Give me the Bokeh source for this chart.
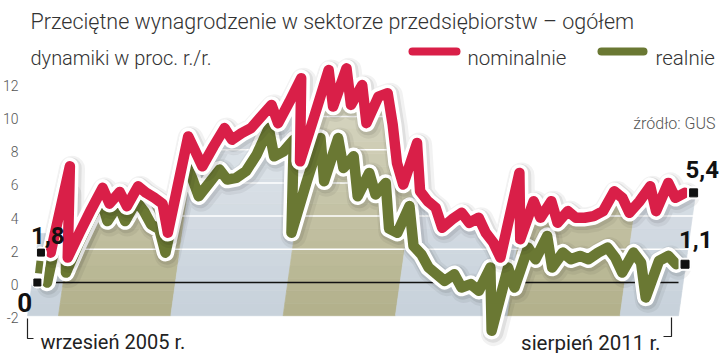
import numpy as np
from bokeh.plotting import figure
from bokeh.models import Range1d, Label
from bokeh.core.properties import value
from bokeh.embed import file_html
from bokeh.resources import INLINE

# ---------------- data ----------------
title = "Przeciętne wynagrodzenie w sektorze przedsiębiorstw – ogółem"
subtitle = "dynamiki w proc. r./r."
series_names = ["nominalnie", "realnie"]
source_note = "źródło: GUS"
first_month_label = "wrzesień 2005 r."
last_month_label = "sierpień 2011 r."

years = [2005, 2006, 2007, 2008, 2009, 2010, 2011]
first_month = 9  # wrzesień 2005, 72 months up to sierpień 2011

nominal = [1.8, 7.0, 1.5, 3.0, 4.4, 5.7, 4.75, 5.45, 4.6, 5.8, 5.4, 5.1,
           4.75, 3.0, 8.8, 7.9, 7.0, 8.2, 9.3, 8.6, 9.0, 9.3, 10.0, 10.7,
           9.6, 10.9, 12.3, 7.3, 10.0, 12.8, 10.6, 12.9, 10.7, 11.9, 9.6, 11.2,
           11.4, 9.5, 7.2, 5.9, 8.4, 5.5, 4.9, 4.5, 3.3, 3.8, 4.2, 3.6,
           3.9, 3.0, 2.4, 1.5, 6.6, 2.6, 4.9, 3.9, 4.9, 3.6, 4.3, 3.9,
           3.9, 4.0, 4.3, 5.5, 5.1, 4.2, 4.9, 5.8, 4.3, 6.0, 5.1, 5.4]

real = [0.0, 5.4, 0.6, 2.3, 3.8, 5.0, 3.7, 4.7, 3.7, 4.9, 4.3, 3.5,
        3.2, 1.8, 7.2, 6.3, 5.2, 6.0, 6.8, 6.2, 6.3, 6.7, 7.7, 9.3,
        7.6, 7.9, 8.6, 3.0, 6.0, 8.7, 6.1, 8.7, 6.9, 7.6, 5.2, 6.6,
        5.3, 6.0, 3.25, 3.0, 4.6, 2.2, 1.7, 0.9, 0.5, 0.1, 0.5, -0.3,
        -0.1, -0.5, 0.9, -2.9, 0.9, -0.3, 2.1, 1.4, 2.8, 0.9, 1.8, 1.4,
        1.6, 1.4, 1.8, 2.1, 1.5, 0.6, 1.8, 1.2, -0.9, 1.3, 1.6, 1.1]

y_ticks = [-2, 0, 2, 4, 6, 8, 10, 12]
y_tick_labels = ["-2", "0", "2", "4", "6", "8", "10", "12"]
grid_values = [2, 4, 6, 8, 10, 12]

# ---------------- layout / style ----------------
W, H = 720, 353
X0, DX = 43.0, 8.83     # pixel of first month, pixels per month
Y0, DY = 282.0, 16.6    # pixel (from top) of value 0, pixels per unit

def px2x(px):
    return (px - X0) / DX

def py2y(py):
    return (Y0 - py) / DY

RED = "#d91f48"
GREEN = "#6a7833"
BLUE_BAND = np.array([199, 209, 219])
OLIVE_BAND = np.array([178, 176, 138])
LIGHT = "Roboto Light"
BOLD = "Roboto"

LINE_SHEAR = 0.12 * DY / DX
LINE_BASE = -1.8

def shear(i, v):
    return np.asarray(i, dtype=float) + LINE_SHEAR * (np.asarray(v, dtype=float) - LINE_BASE)

months = np.arange(len(nominal))

x_lo, x_hi = px2x(0), px2x(W)
y_lo, y_hi = py2y(H), py2y(0)

p = figure(width=W, height=H, x_range=Range1d(x_lo, x_hi), y_range=Range1d(y_lo, y_hi),
           output_backend="svg", toolbar_location=None, min_border=0,
           x_axis_location=None, y_axis_location=None)
p.grid.visible = False
p.outline_line_color = None
p.background_fill_color = "white"
p.border_fill_color = "white"

# ---------------- year bands ----------------
BAND_SHEAR = 0.14 * DY / DX
BAND_BOTTOM, BAND_TOP = -2.0, 13.0
C, STRETCH = 33.5, 1.06
jan_idx = [(y - years[0]) * 12 - (first_month - 1) for y in years[1:]]
edges = [px2x(27)] + [C + STRETCH * (j - 0.5 - C) for j in jan_idx] + [px2x(678)]
levels = np.linspace(BAND_BOTTOM, BAND_TOP, 21)
bxs, bys, bcols = [], [], []
for k in range(len(years)):
    base = BLUE_BAND if k % 2 == 0 else OLIVE_BAND
    for j in range(len(levels) - 1):
        v0, v1 = levels[j], levels[j + 1]
        a = 1 - 0.55 * ((v0 + v1) / 2 - BAND_BOTTOM) / (BAND_TOP - BAND_BOTTOM)
        c = 255 - (255 - base) * a
        col = "#%02x%02x%02x" % tuple(int(round(t)) for t in c)
        s0 = BAND_SHEAR * (v0 - BAND_BOTTOM)
        s1 = BAND_SHEAR * (v1 - BAND_BOTTOM)
        bxs.append([edges[k] + s0, edges[k + 1] + s0, edges[k + 1] + s1, edges[k] + s1])
        bys.append([v0, v0, v1, v1])
        bcols.append(col)
p.patches(bxs, bys, fill_color=bcols, line_color=bcols, line_width=0.7)

# white grid lines
p.segment(x0=[x_lo] * len(grid_values), y0=grid_values, x1=[x_hi] * len(grid_values),
          y1=grid_values, line_color="white", line_width=1.5)

# white mask above the nominal line
nx = shear(months, nominal)
mask_x = [x_lo, x_lo, nx[0] - 0.5] + list(nx) + [x_hi, x_hi]
mask_y = [y_hi, 3.0, 3.0] + list(nominal) + [nominal[-1], y_hi]
p.patch(mask_x, mask_y, fill_color="white", line_color="white", line_width=1)

# zero line
p.segment(x0=[px2x(45)], y0=[0], x1=[px2x(678)], y1=[0], line_color="#111111", line_width=1.6)

# ---------------- lines ----------------
for vals, col in [(real, GREEN), (nominal, RED)]:
    v = np.asarray(vals, dtype=float)
    x = shear(months, v)
    p.line(x + 0.25, v - 0.15, line_width=26, line_color="black", line_alpha=0.05,
           line_join="round", line_cap="round")
    p.line(x + 0.15, v - 0.1, line_width=21, line_color="black", line_alpha=0.08,
           line_join="round", line_cap="round")
    p.line(x, v, line_width=17.5, line_color="white", line_join="round", line_cap="round")
    p.line(x, v, line_width=10.5, line_color=col, line_join="round", line_cap="round")

# start / end markers
start_v = [real[0], nominal[0]]
p.line(shear([-1.1, -1.1], [real[0], nominal[0]]), [real[0], nominal[0]],
       line_width=12, line_color="white", line_cap="round")
mid = [real[0] + 0.55, nominal[0] - 0.5]
p.line(shear([-1.1, -1.1], mid), mid, line_width=7, line_color=GREEN)
end_v = [nominal[-1], real[-1]]
p.scatter(shear([72, 72], end_v), end_v, marker="square", size=12, color="white")
p.scatter(shear([-1.1, -1.1], start_v), start_v, marker="square", size=7, color="#111111")
p.scatter(shear([72, 72], end_v), end_v, marker="square", size=8, color="#111111")

def fmt(v):
    return "0" if v == 0 else ("%.1f" % v).replace(".", ",")

for v, dx, dy in [(nominal[-1], -8, 15), (real[-1], -6, 16)]:
    p.add_layout(Label(x=float(shear(72, v)), y=v, x_offset=dx, y_offset=dy, text=fmt(v),
                       text_font=BOLD, text_font_style="bold", text_font_size="24px",
                       text_color="#111111"))
p.add_layout(Label(x=float(shear(-1.1, nominal[0])), y=nominal[0], x_offset=-10, y_offset=9,
                   text=fmt(nominal[0]), text_font=BOLD, text_font_style="bold",
                   text_font_size="24px", text_color="#111111"))
p.add_layout(Label(x=float(shear(-1.1, real[0])), y=real[0], x_offset=-20, y_offset=-29,
                   text=fmt(real[0]), text_font=BOLD, text_font_style="bold",
                   text_font_size="26px", text_color="#111111"))

# y tick labels
p.text(x=[px2x(18)] * len(y_ticks), y=y_ticks, text=y_tick_labels, text_align="right",
       text_baseline="middle", y_offset=2, text_font=value(LIGHT), text_font_size="14px",
       text_color="#555555")

# ---------------- texts ----------------
def scr_label(text, x, baseline_px, size, color="#333333", align="left", font=LIGHT, style="normal"):
    p.add_layout(Label(x=x, y=H - baseline_px, x_units="screen", y_units="screen", text=text,
                       text_font=font, text_font_size=size, text_color=color,
                       text_align=align, text_baseline="alphabetic", text_font_style=style))

scr_label(title, 30, 21, "21.5px")
scr_label(subtitle, 30, 57, "20px")
scr_label(series_names[0], 467, 57, "20.5px")
scr_label(series_names[1], 655, 57, "20.5px")
scr_label(source_note, 715, 123, "16px", color="#555555", align="right")
scr_label(first_month_label, 40, 341, "20px", color="#222222", font="Roboto")
scr_label(last_month_label, 660, 342, "20.5px", color="#222222", align="right", font="Roboto")

# legend swatches
p.segment(x0=[px2x(412), px2x(601)], y0=[py2y(51)] * 2, x1=[px2x(456), px2x(643)],
          y1=[py2y(51)] * 2, line_color=[RED, GREEN], line_width=8, line_cap="round")

# bracket ticks for first / last month
p.line([px2x(27), px2x(27), px2x(33)], [py2y(318), py2y(338), py2y(338)],
       line_color="#222222", line_width=1.2)
p.line([px2x(663), px2x(671), px2x(671)], [py2y(336), py2y(336), py2y(317)],
       line_color="#222222", line_width=1.2)

open("out.html", "w").write(file_html(p, INLINE))
